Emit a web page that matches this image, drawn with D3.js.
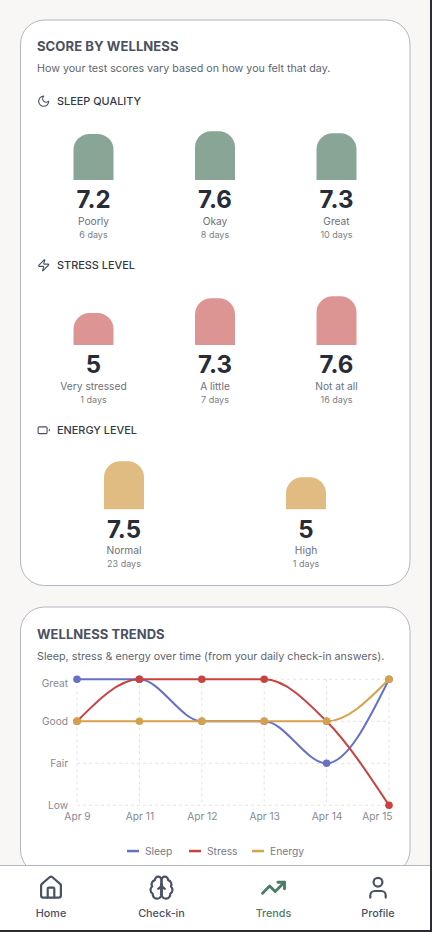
<!DOCTYPE html>
<html>
<head>
  <meta charset="utf-8">
  <script src="https://d3js.org/d3.v7.min.js"></script>
  <style>
    html, body { margin: 0; padding: 0; background: #f8f7f5; overflow: hidden; }
    svg { display: block; font-family: "Inter", sans-serif; }
    .axis path { display: none; }
    .axis line { display: none; }
    .axis text { font-size: 10.2px; fill: #868a94; font-family: "Inter", sans-serif; }
  </style>
</head>
<body>
<script>
// score by wellness
var sleepLabels = ["Poorly", "Okay", "Great"];
var sleepScores = [7.2, 7.6, 7.3];
var sleepDays = [6, 8, 10];

var stressLabels = ["Very stressed", "A little", "Not at all"];
var stressScores = [5, 7.3, 7.6];
var stressDays = [1, 7, 16];

var energyLabels = ["Normal", "High"];
var energyScores = [7.5, 5];
var energyDays = [23, 1];

// wellness trends, 0 = Low ... 3 = Great
var trendDates = ["Apr 9", "Apr 11", "Apr 12", "Apr 13", "Apr 14", "Apr 15"];
var levelNames = ["Low", "Fair", "Good", "Great"];
var sleepTrend = [3, 3, 2, 2, 1, 3];
var stressTrend = [2, 3, 3, 3, 2, 0];
var energyTrend = [2, 2, 2, 2, 2, 3];

var navLabels = ["Home", "Check-in", "Trends", "Profile"];

var svg = d3.select("body").append("svg").attr("width", 432).attr("height", 932);

function text(parent, x, y, str, size, weight, color, anchor, spacing) {
  return parent.append("text")
    .attr("x", x).attr("y", y)
    .attr("text-anchor", anchor || "start")
    .style("font-size", size + "px")
    .style("font-weight", weight)
    .style("letter-spacing", (spacing || 0) + "px")
    .attr("fill", color)
    .text(str);
}

function icon(parent, x, y, scale, paths, color, width) {
  var g = parent.append("g")
    .attr("transform", "translate(" + x + "," + y + ") scale(" + scale + ")")
    .attr("fill", "none")
    .attr("stroke", color)
    .attr("stroke-width", width)
    .attr("stroke-linecap", "round")
    .attr("stroke-linejoin", "round");
  paths.forEach(function (d) { g.append("path").attr("d", d); });
}

// cards
svg.append("rect").attr("x", 20.5).attr("y", 20).attr("width", 389.5).attr("height", 565.5)
  .attr("rx", 24).attr("fill", "#fff").attr("stroke", "#b3b6c2");
svg.append("rect").attr("x", 20.5).attr("y", 607).attr("width", 389.5).attr("height", 267)
  .attr("rx", 24).attr("fill", "#fff").attr("stroke", "#b3b6c2");

text(svg, 37, 51, "SCORE BY WELLNESS", 13.1, 650, "#4a5162", "start", 0.05);
text(svg, 37, 72, "How your test scores vary based on how you felt that day.", 10.7, 400, "#5f6470");

// bar height comes from the score, 0-10 maps to 64px
var barH = d3.scaleLinear().domain([0, 10]).range([0, 64]);
var barW = 40, barR = 16;

function barGroup(centers, baseline, labels, scores, days, color) {
  var g = svg.append("g");
  var items = g.selectAll("g").data(scores).enter().append("g");
  items.append("path")
    .attr("fill", color)
    .attr("d", function (d, i) {
      var h = barH(d), l = centers[i] - barW / 2, t = baseline - h;
      return "M" + l + "," + baseline + "V" + (t + barR) +
        "A" + barR + "," + barR + " 0 0 1 " + (l + barR) + "," + t +
        "H" + (l + barW - barR) +
        "A" + barR + "," + barR + " 0 0 1 " + (l + barW) + "," + (t + barR) +
        "V" + baseline + "Z";
    });
  scores.forEach(function (s, i) {
    text(g, centers[i], baseline + 28.4, s, 24, 700, "#272c39", "middle");
    text(g, centers[i], baseline + 44.6, labels[i], 10.2, 400, "#6c707b", "middle");
    text(g, centers[i], baseline + 57.7, days[i] + " days", 9, 400, "#7b7f89", "middle");
  });
}

function sectionHead(y, str, paths) {
  icon(svg, 37, y - 6.5, 0.56, paths, "#4a5162", 2);
  text(svg, 57, y + 4, str, 10.9, 550, "#343946");
}

sectionHead(101, "SLEEP QUALITY", ["M12 3a6 6 0 0 0 9 9 9 9 0 1 1-9-9Z"]);
barGroup([93.5, 215, 336.5], 180, sleepLabels, sleepScores, sleepDays, "#88a596");

sectionHead(265, "STRESS LEVEL", ["M4 14a1 1 0 0 1-.78-1.63l9.9-10.2a.5.5 0 0 1 .86.46l-1.92 6.02A1 1 0 0 0 13 10h7a1 1 0 0 1 .78 1.63l-9.9 10.2a.5.5 0 0 1-.86-.46l1.92-6.02A1 1 0 0 0 11 14z"]);
barGroup([93.5, 215, 336.5], 345, stressLabels, stressScores, stressDays, "#dd9594");

sectionHead(430, "ENERGY LEVEL", ["M4 6h12a2 2 0 0 1 2 2v8a2 2 0 0 1-2 2H4a2 2 0 0 1-2-2V8a2 2 0 0 1 2-2Z", "M22 11v2"]);
barGroup([124, 306], 509.3, energyLabels, energyScores, energyDays, "#e0bb82");

// trends card
text(svg, 37, 639, "WELLNESS TRENDS", 13, 650, "#4a5162", "start", 0.05);
text(svg, 37, 660, "Sleep, stress & energy over time (from your daily check-in answers).", 10.75, 400, "#5f6470");

var x = d3.scalePoint().domain(trendDates).range([77, 389]);
var y = d3.scaleLinear().domain([0, 3]).range([805.3, 679.3]);

var grid = svg.append("g").attr("stroke", "#e4e4e6").attr("stroke-dasharray", "3,3");
grid.selectAll(".h").data(d3.range(levelNames.length)).enter().append("line")
  .attr("x1", 77).attr("x2", 389)
  .attr("y1", function (d) { return y(d); }).attr("y2", function (d) { return y(d); });
grid.selectAll(".v").data(trendDates).enter().append("line")
  .attr("x1", function (d) { return x(d); }).attr("x2", function (d) { return x(d); })
  .attr("y1", y(3)).attr("y2", y(0));

var yAxis = svg.append("g").attr("class", "axis")
  .attr("transform", "translate(68,0)")
  .call(d3.axisLeft(y).tickValues([0, 1, 2, 3]).tickSize(0).tickPadding(0)
    .tickFormat(function (d) { return levelNames[d]; }));
// top label sits a little under its gridline
yAxis.selectAll("text").filter(function (d) { return d === 3; })
  .attr("transform", "translate(0,4)");

var xAxis = svg.append("g").attr("class", "axis")
  .attr("transform", "translate(0,812.5)")
  .call(d3.axisBottom(x).tickSize(0).tickPadding(0));
// last label is pulled in so it stays inside the card
xAxis.selectAll("text").filter(function (d) { return d === "Apr 15"; })
  .attr("text-anchor", "end").attr("dx", 3);

var line = d3.line()
  .x(function (d, i) { return x(trendDates[i]); })
  .y(function (d) { return y(d); })
  .curve(d3.curveMonotoneX);

var seriesNames = ["Sleep", "Stress", "Energy"];
var seriesValues = [sleepTrend, stressTrend, energyTrend];
var seriesColors = ["#6471c6", "#c8423f", "#d7a04b"];

seriesValues.forEach(function (vals, s) {
  svg.append("path").attr("d", line(vals)).attr("fill", "none")
    .attr("stroke", seriesColors[s]).attr("stroke-width", 2);
  svg.selectAll(".dot" + s).data(vals).enter().append("circle")
    .attr("cx", function (d, i) { return x(trendDates[i]); })
    .attr("cy", function (d) { return y(d); })
    .attr("r", 3.8)
    .attr("fill", seriesColors[s]);
});

// legend
var legendX = [127, 189, 252];
seriesNames.forEach(function (n, i) {
  svg.append("rect").attr("x", legendX[i]).attr("y", 849.8).attr("width", 12).attr("height", 2.5)
    .attr("fill", seriesColors[i]);
  text(svg, legendX[i] + 18, 855, n, 10.3, 400, "#767a85");
});

// bottom nav
svg.append("rect").attr("x", 0).attr("y", 865).attr("width", 432).attr("height", 67).attr("fill", "#fff");
svg.append("line").attr("x1", 0).attr("x2", 432).attr("y1", 865.5).attr("y2", 865.5).attr("stroke", "#b3b6c2");

var navX = [51, 161.5, 273.5, 378];
var navColors = ["#4a5162", "#4a5162", "#4d7c66", "#4a5162"];
var navWidths = [2, 2, 2.6, 2];
var navIcons = [
  ["M15 21v-8a1 1 0 0 0-1-1h-4a1 1 0 0 0-1 1v8", "M3 10a2 2 0 0 1 .709-1.528l7-5.999a2 2 0 0 1 2.582 0l7 5.999A2 2 0 0 1 21 10v9a2 2 0 0 1-2 2H5a2 2 0 0 1-2-2z"],
  ["M12 5a3 3 0 1 0-5.997.125 4 4 0 0 0-2.526 5.77 4 4 0 0 0 .556 6.588A4 4 0 1 0 12 18Z", "M12 5a3 3 0 1 1 5.997.125 4 4 0 0 1 2.526 5.77 4 4 0 0 1-.556 6.588A4 4 0 1 1 12 18Z", "M15 13a4.5 4.5 0 0 1-3-4 4.5 4.5 0 0 1-3 4", "M12 9v9"],
  ["M22 7 13.5 15.5 8.5 10.5 2 17", "M16 7h6v6"],
  ["M19 21v-2a4 4 0 0 0-4-4H9a4 4 0 0 0-4 4v2", "M16 7a4 4 0 1 1-8 0a4 4 0 1 1 8 0Z"]
];
navLabels.forEach(function (n, i) {
  icon(svg, navX[i] - 13.2, 874.5, 1.1, navIcons[i], navColors[i], navWidths[i]);
  text(svg, navX[i], 917, n, 10.8, 500, navColors[i], "middle");
});

// dark edge of the screenshot
svg.append("rect").attr("x", 430).attr("y", 0).attr("width", 2).attr("height", 932).attr("fill", "#2e2c33");
svg.append("rect").attr("x", 0).attr("y", 930).attr("width", 432).attr("height", 2).attr("fill", "#2e2c33");
</script>
</body>
</html>
